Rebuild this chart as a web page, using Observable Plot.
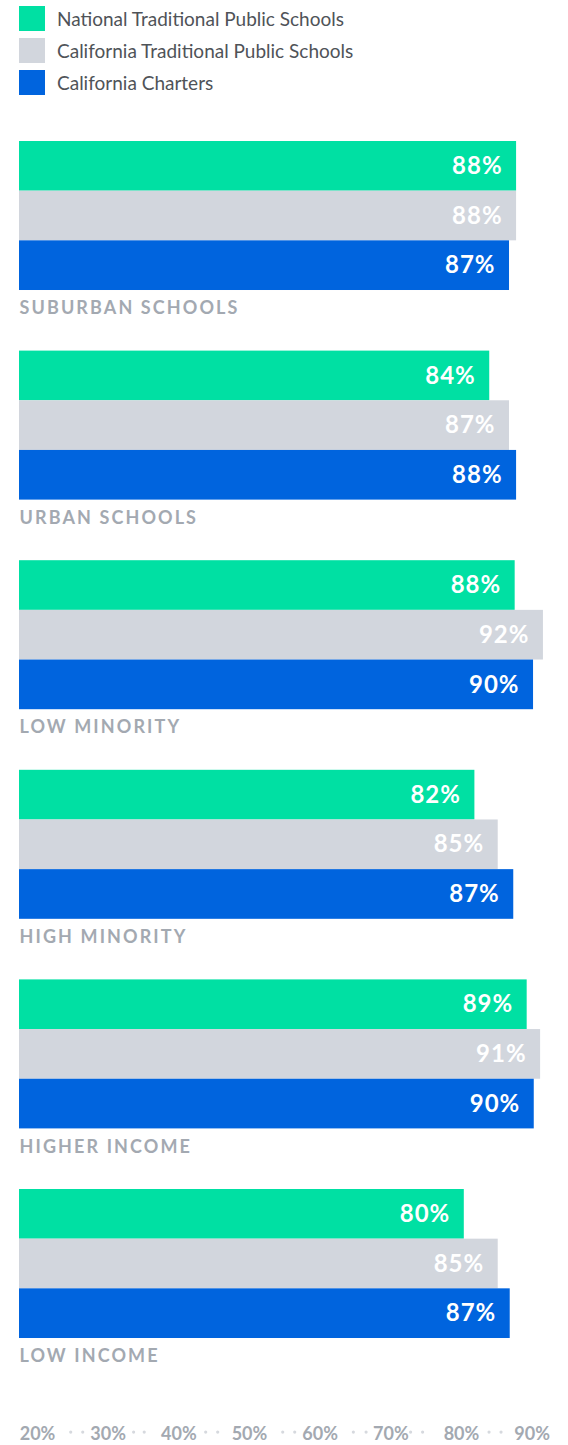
<!DOCTYPE html>
<html><head><meta charset="utf-8">
<script src="https://cdn.jsdelivr.net/npm/d3@7"></script>
<script src="https://cdn.jsdelivr.net/npm/@observablehq/plot@0.6"></script>
<style>
body{margin:0;background:#fff;font-family:Lato, sans-serif;}
#legend{height:100px;box-sizing:border-box;padding:6px 0 0 19px;}
.item{display:flex;align-items:center;height:25px;margin-bottom:7px;}
.sw{width:26px;height:25px;margin-right:12px;flex:none;}
.lab{font-size:19px;color:#4f5358;}
#chart svg{display:block;}
#chart [aria-label^="x-axis"] text{font-size:18px;font-weight:700;fill:#a3a9b1;font-family:Lato, sans-serif;}
</style></head>
<body>
<div id="legend"></div>
<div id="chart"></div>
<script>
const categories = ["Suburban Schools", "Urban Schools", "Low Minority", "High Minority", "Higher Income", "Low Income"];
const series = ["National Traditional Public Schools", "California Traditional Public Schools", "California Charters"];
const nationalTraditional = [87.8, 84.0, 87.6, 81.9, 89.3, 80.4];
const californiaTraditional = [87.8, 86.8, 91.6, 85.2, 91.2, 85.2];
const californiaCharters = [86.8, 87.8, 90.2, 87.4, 90.3, 86.9];
const colors = ["#00e0a3", "#d2d6dd", "#0064de"];
const xTicks = [20, 30, 40, 50, 60, 70, 80, 90];
const axisDots = [24.7, 26.4, 33.6, 35.1, 43.8, 45.5, 54.7, 56.4, 64.7, 66.5, 72.8, 74.5, 83.9, 85.6];

const seriesValues = [nationalTraditional, californiaTraditional, californiaCharters];
const rows = categories.flatMap((c, i) => series.map((s, j) => ({category: c, series: s, value: seriesValues[j][i]})));

// legend
const legend = d3.select("#legend");
series.forEach((s, j) => {
  const it = legend.append("div").attr("class", "item");
  it.append("div").attr("class", "sw").style("background", colors[j]);
  it.append("div").attr("class", "lab").text(s);
});

const xMin = 17.45;
const chart = Plot.plot({
  width: 568,
  height: 1345,
  marginTop: 41,
  marginBottom: 46.4,
  marginLeft: 19,
  marginRight: 18,
  style: {fontFamily: "Lato, sans-serif", background: "white"},
  x: {domain: [xMin, 92.6], ticks: xTicks, tickFormat: d => d + "%", tickSize: 0, tickPadding: 28, label: null},
  y: {domain: series, paddingInner: 0, paddingOuter: 0.61, align: 0, round: false, axis: null},
  fy: {domain: categories, padding: 0, round: false, axis: null, label: null},
  color: {domain: series, range: colors},
  marks: [
    Plot.barX(rows, {fy: "category", y: "series", x1: xMin, x2: "value", fill: "series"}),
    Plot.text(rows, {fy: "category", y: "series", x: "value", text: d => Math.round(d.value) + "%",
      textAnchor: "end", dx: -14, fill: "white", fontSize: 24, fontWeight: 700}),
    Plot.text(categories, {fy: d => d, text: d => d.toUpperCase(), frameAnchor: "top-left", dy: 160,
      fill: "#a3a9b1", fontSize: 18, fontWeight: 700}),
    Plot.dot(axisDots, {x: d => d, fy: () => categories[categories.length - 1], frameAnchor: "bottom", dy: 33,
      r: 1.6, fill: "#d6d9de", stroke: null})
  ]
});
document.getElementById("chart").appendChild(chart);

const upper = categories.map(c => c.toUpperCase());
d3.select(chart).selectAll("text")
  .filter(function() { return upper.includes(this.textContent); })
  .style("letter-spacing", "2.1px");
d3.select(chart).selectAll("text")
  .filter(function() { return /^\d+%$/.test(this.textContent) && this.closest('[aria-label^="x-axis"]') == null; })
  .style("letter-spacing", "1px");
</script>
</body></html>
